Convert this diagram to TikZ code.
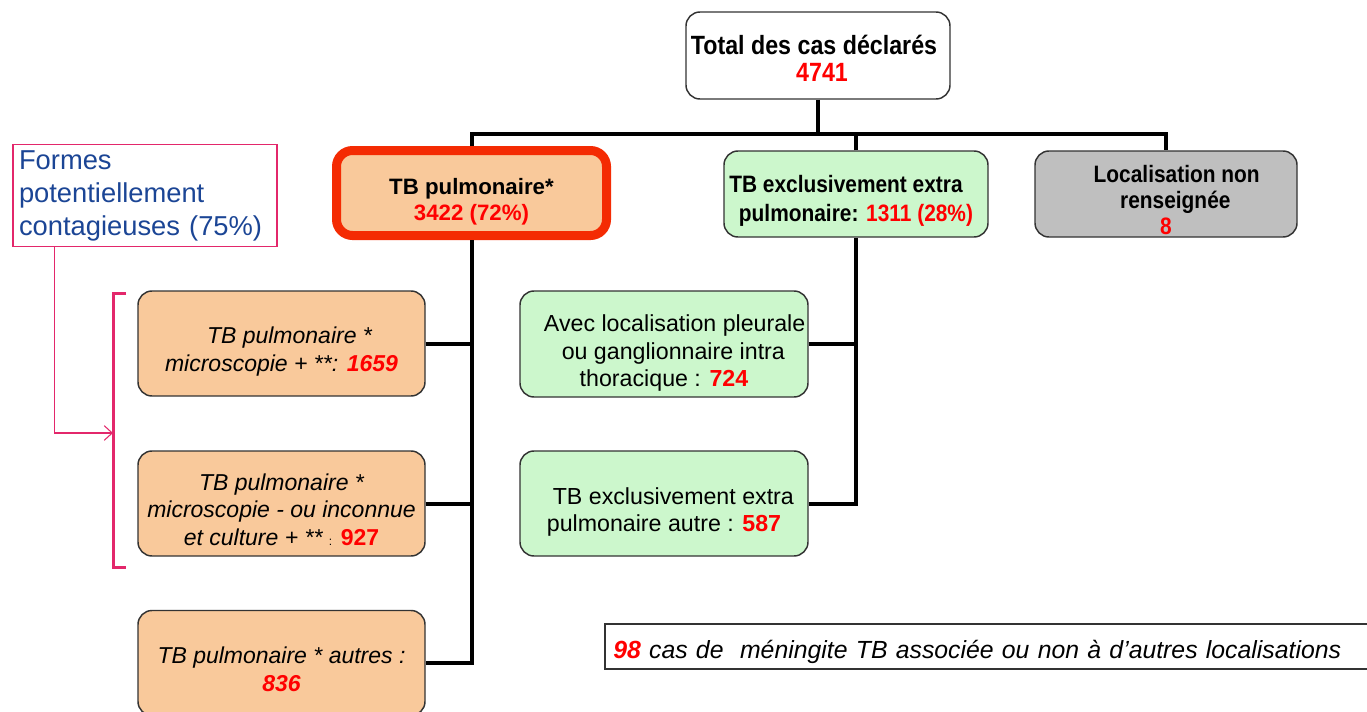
\documentclass[tikz,border=0pt]{standalone}
\usepackage{fontspec}
\setmainfont{Liberation Sans}
\newfontfamily\narrow[FakeStretch=0.88]{Liberation Sans}
\usetikzlibrary{shadows,arrows.meta,calc}
\definecolor{peach}{HTML}{F9C99B}
\definecolor{lgreen}{HTML}{CCF7CC}
\definecolor{lgrey}{HTML}{BFBFBF}
\definecolor{framered}{HTML}{F42B03}
\definecolor{txtred}{HTML}{FF0000}
\definecolor{blu}{HTML}{1B4595}
\definecolor{pinkc}{HTML}{E3276B}
\definecolor{edge}{HTML}{333333}
\newcommand\dnr[1]{\rule{0pt}{#1}}
\begin{document}
\begin{tikzpicture}[x=0.75pt,y=-0.75pt,
  wh/.style 2 args={minimum width=#1*0.75pt, minimum height=#2*0.75pt},
  rbox/.style={draw=edge, line width=1.1pt, rounded corners=10.5pt, inner sep=0pt, align=center},
  conn/.style={line width=3pt, black},
  otxt/.style={font=\itshape\fontsize{17.25}{20.6}\selectfont},
  gtxt/.style={font=\fontsize{17.4}{20.6}\selectfont}
]
\useasboundingbox (0,0) rectangle (1367,711);

% top level
\node[rbox, fill=white, wh={264}{87}, font=\narrow\bfseries\fontsize{19.8}{20.3}\selectfont] (total) at (818,55.5)
  {\dnr{19.4pt}Total des cas déclarés\hspace*{6pt}\\\hspace*{6pt}\textcolor{txtred}{4741}};
\node[rbox, draw=framered, line width=6.75pt, rounded corners=12pt, fill=peach, wh={270}{85},
  drop shadow={shadow xshift=2pt, shadow yshift=-2pt, opacity=0.35},
  font=\bfseries\fontsize{16.7}{19.5}\selectfont] (tbp) at (471.5,193)
  {\dnr{24.5pt}TB pulmonaire*\\\textcolor{txtred}{3422 (72\%)}};
\node[rbox, fill=lgreen, wh={264}{86}, font=\narrow\bfseries\fontsize{17.8}{21.75}\selectfont] (grn) at (856,194)
  {\dnr{23.8pt}TB exclusivement extra\hspace*{15pt}\\pulmonaire: \textcolor{txtred}{1311 (28\%)}};
\node[rbox, fill=lgrey, wh={262}{86}, font=\narrow\bfseries\fontsize{17.8}{19.5}\selectfont] (gry) at (1166,194)
  {\dnr{22.3pt}\hspace*{16pt}Localisation non\\\hspace*{14pt}renseignée\\\textcolor{txtred}{8}};

% pulmonary sub boxes
\node[rbox, fill=peach, wh={287}{105}, otxt] (o1) at (281.5,343.5)
  {\dnr{24.9pt}\hspace*{12pt}TB pulmonaire *\\microscopie + **: \textcolor{txtred}{\bfseries 1659}};
\node[rbox, fill=peach, wh={287}{105}, otxt] (o2) at (281.5,503.5)
  {\dnr{21.9pt}TB pulmonaire *\\microscopie - ou inconnue\\et culture + ** {\upshape\small :} \textcolor{txtred}{\upshape\bfseries 927}};
\node[rbox, fill=peach, wh={287}{105}, otxt] (o3) at (281.5,663)
  {\dnr{21.9pt}TB pulmonaire * autres :\\\textcolor{txtred}{\bfseries 836}};

% extra pulmonary sub boxes
\node[rbox, fill=lgreen, wh={288}{106}, gtxt] (g1) at (664,344)
  {\dnr{26.5pt}\hspace*{16pt}Avec localisation pleurale\\\hspace*{14pt}ou ganglionnaire intra\\thoracique : \textcolor{txtred}{\bfseries 724}};
\node[rbox, fill=lgreen, wh={288}{105}, gtxt] (g2) at (664,503.5)
  {\dnr{25pt}\hspace*{14pt}TB exclusivement extra\\pulmonaire autre : \textcolor{txtred}{\bfseries 587}};

% side note
\node[draw=pinkc, line width=0.8pt, wh={264}{99}, text width=189pt, inner sep=4.5pt, align=left,
  text=blu, font=\fontsize{20.5}{24.75}\selectfont] (pk) at (145,195.5)
  {Formes\\potentiellement\\contagieuses (75\%)};

% meningitis note
\node[draw=edge, line width=1.4pt, anchor=west, wh={790}{45}, text width=580pt, inner xsep=5pt, inner ysep=0pt,
  align=left, font=\itshape\fontsize{18.6}{20}\selectfont] (men) at (604,646.5)
  {\dnr{21.5pt}\textcolor{txtred}{\bfseries 98} cas de\ \ méningite TB associée ou non à d’autres localisations};

% connectors
\coordinate (bar) at (818,134);
\draw[conn] (total.south) -- (total.south |- bar);
\draw[conn] (tbp.north) -- (tbp.north |- bar) -- (gry.north |- bar) -- (gry.north);
\draw[conn] (grn.north) -- (grn.north |- bar);

\draw[conn] (tbp.south) -- (tbp.south |- o3.east) -- (o3.east);
\draw[conn] (o1.east) -- (o1.east -| tbp.south);
\draw[conn] (o2.east) -- (o2.east -| tbp.south);

\draw[conn] (grn.south) -- (grn.south |- g2.east) -- (g2.east);
\draw[conn] (g1.east) -- (g1.east -| grn.south);

% bracket and arrow
\coordinate (br) at (113,433);
\draw[pinkc, line width=2.25pt] (126,293) -- (113,293) -- (113,567) -- (126,567);
\draw[pinkc, line width=0.8pt, -{Straight Barb[length=6pt,width=11pt]}]
  ($(pk.south west)+(42,0)$) |- (br);
\end{tikzpicture}
\end{document}
